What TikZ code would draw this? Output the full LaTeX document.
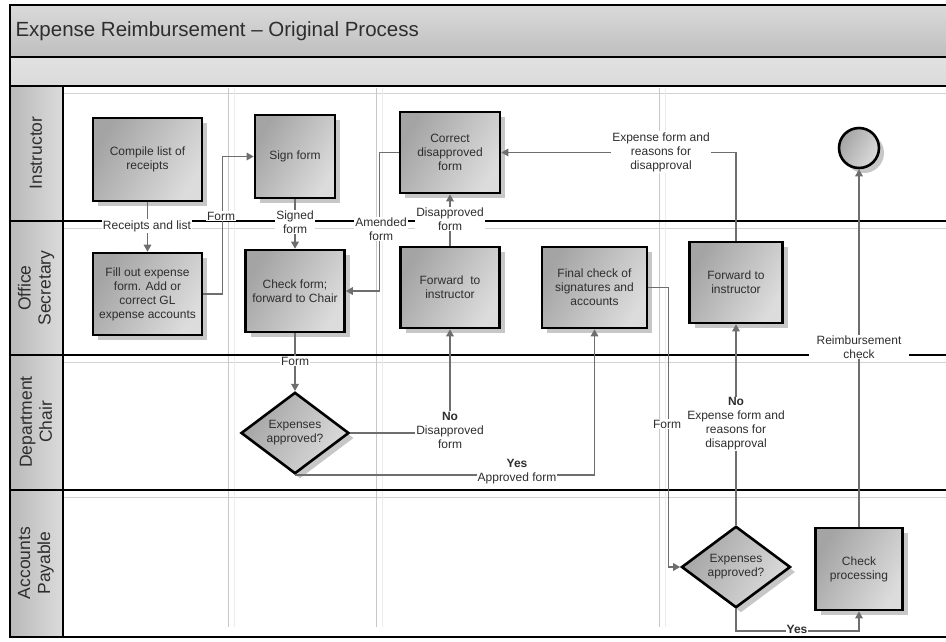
\documentclass[tikz,border=0pt]{standalone}
\usepackage{fontspec}
\setmainfont{Liberation Sans}
\usetikzlibrary{arrows.meta,shapes.geometric,shadows}
\definecolor{ink}{HTML}{2E2E2E}
\definecolor{wire}{HTML}{6E6E6E}
\definecolor{boxdark}{HTML}{A4A4A4}
\definecolor{boxlight}{HTML}{DCDCDC}
\definecolor{bandtop}{HTML}{DADADA}
\definecolor{bandbot}{HTML}{BEBEBE}
\definecolor{phase}{HTML}{C8C8C8}
\begin{document}
\begin{tikzpicture}[x=1pt,y=-1pt,
  frame/.style={line width=2.6pt,black},
  stepbox/.style={draw=black,line width=2.6pt,left color=boxdark,right color=boxlight,shading angle=60,
    drop shadow={shadow xshift=5pt,shadow yshift=-5pt,opacity=0.22,fill=black},
    align=center,text=ink,font=\fontsize{12}{14}\selectfont,inner sep=2pt},
  decision/.style={stepbox,diamond,inner sep=0pt},
  flow/.style={draw=wire,line width=1.5pt,-{Triangle[length=7pt,width=7.5pt]}},
  link/.style={draw=wire,line width=1.5pt},
  tag/.style={fill=white,text=ink,align=center,font=\fontsize{12}{14}\selectfont,inner sep=1pt},
  lanename/.style={rotate=90,align=center,text=ink,font=\fontsize{17.5}{20}\selectfont}]
\useasboundingbox (0,0) rectangle (946,641);

% title band and empty second band
\fill[top color=bandtop,bottom color=bandbot] (10,5) rectangle (946,57);
\fill[top color=bandtop!80!white,bottom color=bandtop] (10,57) rectangle (946,86);
% lane header column
\fill[left color=gray!55,right color=gray!28] (10,86) rectangle (63,637);

% thin lines under each lane boundary
\foreach \y in {86,221,355,490}
  \draw[gray!35,line width=1pt] (63,{\y+7}) -- (946,{\y+7});
% phase separators
\foreach \x in {228,376,659}{
  \draw[phase,line width=0.9pt] (\x,88) -- (\x,627);
  \draw[gray!15,line width=0.9pt] ({\x+6},88) -- ({\x+6},627);}

% frame and lane boundaries
\draw[frame] (946,5) -- (10,5) -- (10,637) -- (946,637);
\foreach \y in {57,86,221,355,490}
  \draw[frame] (10,\y) -- (946,\y);
\draw[frame] (63,86) -- (63,637);

% title and lane names
\node[anchor=west,text=ink,font=\fontsize{20.5}{24}\selectfont] (title) at (12,31) {Expense Reimbursement – Original Process};
\node[lanename] (ln1) at (36,153) {Instructor};
\node[lanename] (ln2) at (36,288) {Office\\Secretary};
\node[lanename] (ln3) at (36,422) {Department\\Chair};
\node[lanename] (ln4) at (36,563) {Accounts\\Payable};

% activities
\node[stepbox,minimum width=109pt,minimum height=83pt] (compile) at (147.5,159.5) {Compile list of\\receipts};
\node[stepbox,minimum width=80pt,minimum height=83pt] (sign) at (295,156.5) {Sign form};
\node[stepbox,minimum width=100pt,minimum height=81pt] (correct) at (450,152.5) {Correct\\disapproved\\form};
\node[stepbox,minimum width=109pt,minimum height=82pt] (fillout) at (147.5,294) {Fill out expense\\form. Add or\\correct GL\\expense accounts};
\node[stepbox,minimum width=99pt,minimum height=82pt] (check) at (295,291) {Check form;\\forward to Chair};
\node[stepbox,minimum width=99pt,minimum height=81pt] (fwd1) at (450,287.5) {Forward\ \ to\\instructor};
\node[stepbox,minimum width=105pt,minimum height=81pt] (final) at (594.5,287.5) {Final check of\\signatures and\\accounts};
\node[stepbox,minimum width=93pt,minimum height=81pt] (fwd2) at (736,282.5) {Forward to\\instructor};
\node[stepbox,circle,minimum size=40pt,inner sep=0pt] (done) at (859,148) {};
\node[stepbox,minimum width=87pt,minimum height=82pt] (cheque) at (859,569) {Check\\processing};
\node[decision,minimum width=108pt,minimum height=80pt] (chair) at (295,433) {Expenses\\approved?};
\node[decision,minimum width=109pt,minimum height=81pt] (payable) at (736,567) {Expenses\\approved?};

% flows
\draw[flow] (compile.south) -- (fillout.north);
\draw[flow] (fillout.east) -- ++(19,0) |- (sign.west);
\draw[flow] (sign.south) -- (check.north);
\draw[flow] (check.south) -- (chair.north);
\draw[flow] (correct.west) -- ++(-19,0) |- (check.east);
\draw[flow] (fwd1.north) -- (correct.south);
\draw[flow] (chair.east) -| (fwd1.south);
\draw[flow] (chair.south) -| (final.south);
\draw[flow] (final.east) -- ++(20,0) |- (payable.west);
\draw[flow] (payable.north) -- (fwd2.south);
\draw[flow] (fwd2.north) |- (correct.east);
\draw[flow] (payable.south) -- ++(0,22) -| (cheque.south);
\draw[flow] (cheque.north) -- (done.south);

% flow labels
\node[tag] (t1) at (147,226) {Receipts and list};
\node[tag] (t2) at (221,216) {Form};
\node[tag] (t3) at (295,222) {Signed\\form};
\node[tag] (t4) at (381,229) {Amended\\form};
\node[tag] (t5) at (450,219) {Disapproved\\form};
\node[tag] (t6) at (295,361) {Form};
\node[tag] (t7) at (450,430) {\textbf{No}\\Disapproved\\form};
\node[tag] (t8) at (517,472) {\textbf{Yes}\\Approved form};
\node[tag] (t9) at (667,424) {Form};
\node[tag] (t10) at (736,424) {\textbf{No}\\Expense form and\\reasons for\\disapproval};
\node[tag] (t11) at (661,152) {Expense form and\\reasons for\\disapproval};
\node[tag] (t12) at (797,629) {\textbf{Yes}};
\node[tag,inner xsep=8pt] (t13) at (859,347) {Reimbursement\\check};
\end{tikzpicture}
\end{document}
